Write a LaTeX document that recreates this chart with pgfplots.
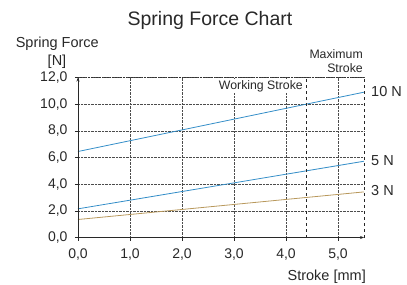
\documentclass[border=0pt]{standalone}
\usepackage{fontspec}
\setmainfont{Liberation Sans}
\usepackage{pgfplots}
\pgfplotsset{compat=1.18}
\usetikzlibrary{arrows.meta}
\definecolor{blueline}{RGB}{52,142,200}
\definecolor{tanline}{RGB}{184,152,92}
\definecolor{txt}{RGB}{40,40,40}
\begin{document}
\begin{tikzpicture}
\path[use as bounding box] (0pt,0pt) rectangle (407pt,-284pt);
\begin{axis}[
  at={(78pt,-237.5pt)}, anchor=south west,
  scale only axis, width=286pt, height=160pt,
  xmin=0, xmax=5.5, ymin=0, ymax=12,
  xtick={0,1,2,3,4,5}, ytick={0,2,4,6,8,10,12},
  xtick pos=left, ytick pos=left,
  grid=major,
  major grid style={densely dotted, black!70, line width=0.45pt},
  axis line style={draw=none},
  tick style={draw=txt, line width=0.5pt},
  tick align=outside, major tick length=3pt,
  xticklabel={\pgfmathprintnumber[fixed,fixed zerofill,precision=1,use comma,assume math mode=true]{\tick}},
  yticklabel={\pgfmathprintnumber[fixed,fixed zerofill,precision=1,use comma,assume math mode=true]{\tick}},
  xticklabel style={font=\fontsize{14}{16}\selectfont, text=txt, yshift=-5pt},
  yticklabel style={font=\fontsize{14}{16}\selectfont, text=txt, xshift=-4pt},
  clip=false,
]
\addplot[blueline, line width=0.8pt] coordinates {(0,6.45) (5.5,10.9)};
\addplot[blueline, line width=0.8pt] coordinates {(0,2.15) (5.5,5.72)};
\addplot[tanline, line width=0.8pt] coordinates {(0,1.35) (5.5,3.42)};
\draw[black!80, densely dotted, line width=0.6pt] (axis cs:0,12) -- (axis cs:5.5,12);
\draw[black!85, dashed, line width=0.7pt] (axis cs:5.5,0) -- (axis cs:5.5,12);
\draw[black!85, dashed, line width=0.7pt] (axis cs:4.4,0) -- (axis cs:4.4,12);
\draw[txt, line width=0.6pt, -{Stealth[length=4pt,width=3pt]}] (axis cs:0,0) -- (axis cs:0,12);
\draw[txt, line width=0.6pt, -{Stealth[length=4pt,width=3pt]}] (axis cs:0,0) -- (axis cs:5.5,0);
\end{axis}
\begin{scope}[every node/.style={inner sep=0pt, text=txt}]
\node[anchor=base, font=\fontsize{19.5}{22}\selectfont] at (210pt,-25pt) {Spring Force Chart};
\node[anchor=base east, font=\fontsize{14.5}{17}\selectfont] at (99pt,-47pt) {Spring Force};
\node[anchor=base, font=\fontsize{14.5}{17}\selectfont] at (57pt,-65pt) {[N]};
\node[anchor=base east, font=\fontsize{12.3}{14}\selectfont] at (363pt,-58pt) {Maximum};
\node[anchor=base east, font=\fontsize{12.3}{14}\selectfont] at (363pt,-72pt) {Stroke};
\node[anchor=base east, font=\fontsize{12.3}{14}\selectfont, fill=white, inner xsep=1.5pt, inner ysep=1pt] at (304.5pt,-89pt) {Working Stroke};
\node[anchor=west, font=\fontsize{14.5}{17}\selectfont] at (371pt,-92pt) {10 N};
\node[anchor=west, font=\fontsize{14.5}{17}\selectfont] at (371pt,-161pt) {5 N};
\node[anchor=west, font=\fontsize{14.5}{17}\selectfont] at (371pt,-191pt) {3 N};
\node[anchor=base east, font=\fontsize{14.5}{17}\selectfont] at (366pt,-280pt) {Stroke [mm]};
\end{scope}
\end{tikzpicture}
\end{document}
